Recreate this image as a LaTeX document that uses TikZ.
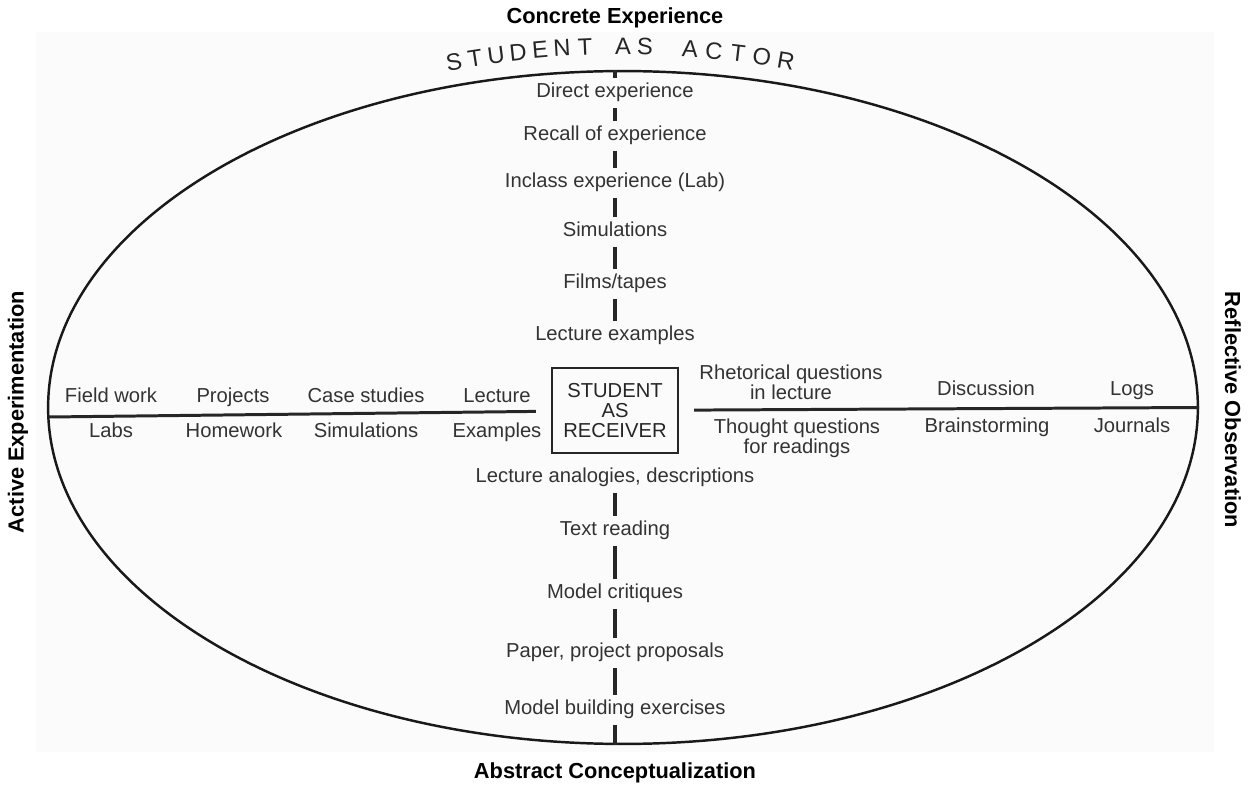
\documentclass[tikz,border=0pt]{standalone}
\usepackage{fontspec}
\setmainfont{Liberation Sans}
\usetikzlibrary{shapes, positioning, calc}
\tikzset{
    rim/.style={ellipse, draw, line width=1.4pt, black!90, minimum width=23cm, minimum height=13.46cm, inner sep=0pt},
    item/.style={text=black!80, font=\fontsize{11.5}{13}\selectfont, inner sep=2pt, text height=8pt, text depth=2.5pt},
    pair/.style={text=black!80, font=\fontsize{11.5}{11.3}\selectfont, align=center, inner sep=1pt},
    pole/.style={font=\bfseries\fontsize{12.4}{14}\selectfont},
    actor/.style={text=black!85, font=\fontsize{13.5}{15}\selectfont, inner sep=0pt, text height=9.6pt, text depth=0pt},
    receiverbox/.style={rectangle, draw, line width=1.3pt, black!85, text=black!85, align=center, minimum width=2.52cm, minimum height=1.7cm, font=\fontsize{11.5}{11.3}\selectfont},
    axis/.style={line width=1.7pt, black!85},
    tick/.style={line width=2.5pt, black!85, shorten >=1pt, shorten <=1pt}
}

\begin{document}
\begin{tikzpicture}[x=0.02cm, y=-0.02cm]

    % Frame
    \useasboundingbox (0,0) rectangle (1252,787);
    \fill[black!1.5] (36,32) rectangle (1214,752);

    % Ellipse and centre box
    \node[rim] (rim) at (623,407.5) {};
    \node[receiverbox] (receiver) at (615,410.5) {STUDENT\\AS\\RECEIVER};

    % Poles
    \node[pole] (concrete) at (615,18) {Concrete Experience};
    \node[pole] (abstract) at (615,773) {Abstract Conceptualization};
    \node[pole, rotate=90] (active) at (18,412) {Active Experimentation};
    \node[pole, rotate=-90] (reflective) at (1233,410) {Reflective Observation};

    % Curved title along the top of the ellipse
    \foreach \x/\ch in {454/S,475/T,496/U,518/D,540/E,562/N,585/T,623/A,645/S,690/A,714/C,738/T,762/O,786/R}{
        \pgfmathsetmacro\cosv{(\x-623)/575}
        \pgfmathsetmacro\sinv{sqrt(1-\cosv*\cosv)}
        \pgfmathsetmacro\yy{407.5-361.5*\sinv}
        \pgfmathsetmacro\ang{atan(-336.5*\cosv/(575*\sinv))}
        \node[actor, rotate=\ang] (letter-\x) at (\x,\yy) {\ch};
    }

    % Upper axis
    \node[item] (direct) at (615,93) {Direct experience};
    \node[item] (recall) at (615,136) {Recall of experience};
    \node[item] (inclass) at (615,183) {Inclass experience (Lab)};
    \node[item] (simul) at (615,232) {Simulations};
    \node[item] (films) at (615,284) {Films/tapes};
    \node[item] (lectex) at (615,336) {Lecture examples};

    % Lower axis
    \node[item] (analog) at (615,478) {Lecture analogies, descriptions};
    \node[item] (textread) at (615,531) {Text reading};
    \node[item] (critique) at (615,594) {Model critiques};
    \node[item] (proposal) at (615,653) {Paper, project proposals};
    \node[item] (modelbuild) at (615,710) {Model building exercises};

    % Left half
    \node[item] (fieldwork) at (111,398) {Field work};
    \node[item] (projects) at (233,398) {Projects};
    \node[item] (casestudies) at (366,398) {Case studies};
    \node[item] (lecture) at (497,398) {Lecture};
    \node[item] (labs) at (111,433) {Labs};
    \node[item] (homework) at (234,433) {Homework};
    \node[item] (simulations) at (366,433) {Simulations};
    \node[item] (examples) at (497,433) {Examples};

    % Right half
    \node[pair] (rhetorical) at (791,382) {Rhetorical questions\\in lecture};
    \node[item] (discussion) at (986,391) {Discussion};
    \node[item] (logs) at (1132,391) {Logs};
    \node[pair] (thought) at (797,438) {Thought questions\\for readings};
    \node[item] (brainstorm) at (987,428) {Brainstorming};
    \node[item] (journals) at (1132,428) {Journals};

    % Horizontal axis
    \coordinate (wl) at (49,417);
    \draw[axis, shorten >=8.5pt] (wl) -- (receiver);
    \draw[axis, shorten <=8.5pt] (receiver) -- (rim.east);

    % Vertical axis ticks
    \draw[tick, shorten >=0pt] (direct) -- (direct |- rim.north);
    \draw[tick] (direct) -- (recall);
    \draw[tick] (recall) -- (inclass);
    \draw[tick] (inclass) -- (simul);
    \draw[tick] (simul) -- (films);
    \draw[tick] (films) -- (lectex);
    \draw[tick] (analog) -- (textread);
    \draw[tick] (textread) -- (critique);
    \draw[tick] (critique) -- (proposal);
    \draw[tick] (proposal) -- (modelbuild);
    \draw[tick, shorten >=0pt] (modelbuild) -- (modelbuild |- rim.south);

\end{tikzpicture}
\end{document}
